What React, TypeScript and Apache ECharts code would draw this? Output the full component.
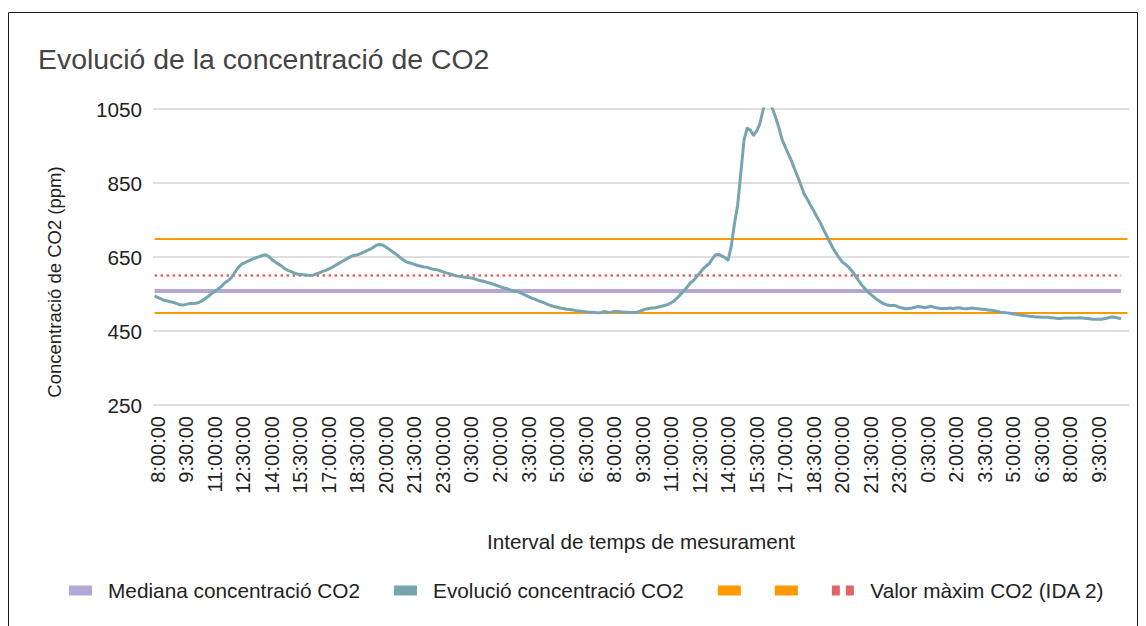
import React, { useEffect, useRef } from 'react';
import * as echarts from 'echarts';

// ---- Data ----
// Readings every 10 minutes, starting at 7:50 (day 1)
const START_MINUTES = 7 * 60 + 50;
const STEP_MINUTES = 10;
const SLOT_COUNT = 308;

const X_TICK_LABELS = [
  '8:00:00', '9:30:00', '11:00:00', '12:30:00', '14:00:00', '15:30:00', '17:00:00', '18:30:00',
  '20:00:00', '21:30:00', '23:00:00', '0:30:00', '2:00:00', '3:30:00', '5:00:00', '6:30:00',
  '8:00:00', '9:30:00', '11:00:00', '12:30:00', '14:00:00', '15:30:00', '17:00:00', '18:30:00',
  '20:00:00', '21:30:00', '23:00:00', '0:30:00', '2:00:00', '3:30:00', '5:00:00', '6:30:00',
  '8:00:00', '9:30:00',
];
const TICK_EVERY = 9; // one label every 1.5 h
const TICK_OFFSET = 1; // first label (8:00) is the 2nd reading

const CO2_PPM = [
  545, 541, 537, 533, 531, 529, 527, 524, 521, 520,
  522, 524, 524, 525, 527, 532, 538, 544, 551, 557,
  563, 570, 579, 585, 592, 604, 617, 627, 633, 637,
  641, 645, 648, 651, 654, 656, 652, 643, 637, 631,
  626, 619, 614, 611, 607, 604, 603, 602, 601, 600,
  601, 604, 607, 611, 614, 618, 622, 627, 632, 637,
  642, 647, 652, 654, 656, 659, 663, 667, 671, 676,
  682, 684, 682, 677, 671, 665, 659, 652, 645, 639,
  635, 633, 630, 627, 625, 623, 622, 619, 617, 616,
  613, 610, 607, 605, 602, 599, 598, 597, 595, 594,
  593, 591, 588, 586, 584, 581, 579, 576, 573, 570,
  567, 565, 562, 559, 557, 555, 551, 547, 543, 539,
  536, 532, 529, 526, 522, 519, 516, 514, 512, 511,
  509, 508, 507, 505, 504, 503, 502, 501, 501, 500,
  499, 500, 503, 500, 501, 503, 503, 502, 501, 501,
  500, 500, 500, 503, 506, 509, 511, 512, 513, 515,
  517, 519, 522, 526, 532, 540, 549, 558, 568, 579,
  586, 596, 606, 617, 625, 632, 645, 656, 657, 653,
  648, 642, 680, 740, 790, 877, 965, 998, 993, 979,
  990, 1010, 1046, 1085, 1080, 1051, 1027, 1000, 968, 948,
  929, 909, 887, 866, 843, 820, 806, 790, 775, 759,
  744, 726, 709, 692, 675, 661, 648, 637, 630, 623,
  613, 601, 588, 576, 566, 556, 549, 542, 535, 529,
  524, 521, 519, 519, 518, 514, 512, 510, 511, 512,
  514, 516, 515, 513, 515, 517, 514, 512, 511, 511,
  511, 512, 511, 512, 513, 511, 510, 511, 512, 511,
  510, 509, 508, 507, 506, 505, 503, 501, 500, 499,
  498, 496, 495, 493, 492, 491, 490, 489, 488, 488,
  487, 487, 487, 486, 485, 484, 484, 485, 485, 485,
  485, 485, 486, 485, 484, 483, 482, 482, 482, 482,
  484, 486, 488, 487, 485, 483,
];

const MEDIAN_CO2 = 558;
const LIMIT_LOW = 500;
const LIMIT_HIGH = 700;
const IDA2_MAX = 600;

const Y_MIN = 250;
const Y_MAX = 1050;
const Y_STEP = 200;

const NAME_MEDIAN = 'Mediana concentració CO2';
const NAME_CO2 = 'Evolució concentració CO2';
const NAME_LOW = 'Límit inferior';
const NAME_HIGH = 'Límit superior';
const NAME_IDA2 = 'Valor màxim CO2 (IDA 2)';
const UNLABELLED = [NAME_LOW, NAME_HIGH];

// ---- Styles ----
const FONT = '"Liberation Sans", Arial, Helvetica, sans-serif';
const PURPLE = '#b4a7d6';
const TEAL = '#76a5af';
const ORANGE = '#ff9900';
const RED = '#e06666';
const TEXT = '#222222';

const CATEGORIES = Array.from({ length: SLOT_COUNT }, (_, i) => {
  const m = (START_MINUTES + i * STEP_MINUTES) % 1440;
  return `${Math.floor(m / 60)}:${String(m % 60).padStart(2, '0')}:00`;
});

const LAST_READING = CO2_PPM.length - 1;
const LAST_SLOT = SLOT_COUNT - 1;

function refLine(value: number, endIdx: number, color: string, width: number, type: any) {
  return {
    silent: true,
    symbol: ['none', 'none'],
    label: { show: false },
    emphasis: { disabled: true },
    animation: false,
    lineStyle: { color, width, type, cap: 'butt', opacity: 1 },
    data: [[{ coord: [0, value] }, { coord: [endIdx, value] }]],
  };
}

export default function App() {
  const ref = useRef<HTMLDivElement>(null);

  useEffect(() => {
    if (!ref.current) return;
    const chart = echarts.init(ref.current, undefined, { renderer: 'svg' });
    const isTick = (i: number) =>
      i >= TICK_OFFSET && (i - TICK_OFFSET) % TICK_EVERY === 0 &&
      (i - TICK_OFFSET) / TICK_EVERY < X_TICK_LABELS.length;

    chart.setOption({
      animation: false,
      backgroundColor: '#ffffff',
      textStyle: { fontFamily: FONT },
      title: {
        text: 'Evolució de la concentració de CO2',
        left: 38,
        top: 45,
        padding: 0,
        textStyle: { fontSize: 28.4, fontWeight: 'normal', color: '#444444', fontFamily: FONT },
      },
      legend: {
        left: 69,
        top: 580,
        padding: 0,
        itemWidth: 23,
        itemHeight: 10,
        itemGap: 34,
        selectedMode: false,
        formatter: (name: string) => (UNLABELLED.includes(name) ? '' : name),
        textStyle: { fontSize: 20.8, color: TEXT, fontFamily: FONT, padding: [0, 0, 0, 11] },
        data: [
          { name: NAME_MEDIAN, icon: 'rect' },
          { name: NAME_CO2, icon: 'rect' },
          { name: NAME_LOW, icon: 'rect', textStyle: { padding: 0 } },
          { name: NAME_HIGH, icon: 'rect', textStyle: { padding: 0 } },
          { name: NAME_IDA2, icon: 'path://M0,0h8v10h-8z M14,0h8v10h-8z' },
        ],
      },
      grid: { left: 153, right: 17, top: 109, bottom: 221, containLabel: false, outerBoundsMode: 'none' },
      xAxis: {
        type: 'category',
        data: CATEGORIES,
        boundaryGap: true,
        axisLine: { show: false },
        axisTick: { show: false },
        splitLine: { show: false },
        axisLabel: {
          interval: (i: number) => isTick(i),
          rotate: 90,
          margin: 11,
          fontSize: 20,
          color: TEXT,
          fontFamily: FONT,
          formatter: (v: string, i: number) =>
            isTick(i) ? X_TICK_LABELS[(i - TICK_OFFSET) / TICK_EVERY] : v,
        },
        name: 'Interval de temps de mesurament',
        nameLocation: 'middle',
        nameGap: 126,
        nameTextStyle: { fontSize: 20.7, color: TEXT, fontFamily: FONT },
      },
      yAxis: {
        type: 'value',
        min: Y_MIN,
        max: Y_MAX,
        interval: Y_STEP,
        axisLine: { show: false },
        axisTick: { show: false },
        axisLabel: {
          fontSize: 20.7,
          color: TEXT,
          margin: 11,
          fontFamily: FONT,
          formatter: (v: number) => String(v),
        },
        splitLine: { lineStyle: { color: '#d5d5d5', width: 1.5 } },
        name: 'Concentració de CO2 (ppm)',
        nameLocation: 'middle',
        nameGap: 89,
        nameTextStyle: { fontSize: 18.5, color: TEXT, fontFamily: FONT, padding: [0, 50, 0, 0] },
      },
      graphic: [
        {
          type: 'rect',
          silent: true,
          z: -10,
          shape: { x: 8.5, y: 12.5, width: 1129, height: 700 },
          style: { fill: 'transparent', stroke: '#1a1a1a', lineWidth: 1 },
        },
      ],
      series: [
        {
          name: NAME_MEDIAN,
          type: 'line',
          data: [],
          color: PURPLE,
          markLine: refLine(MEDIAN_CO2, LAST_READING, PURPLE, 4, 'solid'),
        },
        {
          name: NAME_CO2,
          type: 'line',
          data: CO2_PPM,
          color: TEAL,
          symbol: 'none',
          showSymbol: false,
          z: 10,
          clip: true,
          emphasis: { disabled: true },
          lineStyle: { width: 3, color: TEAL, join: 'round' },
        },
        {
          name: NAME_LOW,
          type: 'line',
          data: [],
          color: ORANGE,
          markLine: refLine(LIMIT_LOW, LAST_SLOT, ORANGE, 2, 'solid'),
        },
        {
          name: NAME_HIGH,
          type: 'line',
          data: [],
          color: ORANGE,
          markLine: refLine(LIMIT_HIGH, LAST_SLOT, ORANGE, 2, 'solid'),
        },
        {
          name: NAME_IDA2,
          type: 'line',
          data: [],
          color: RED,
          markLine: refLine(IDA2_MAX, LAST_READING, RED, 2.5, [2.5, 3.5]),
        },
      ],
    });
    return () => chart.dispose();
  }, []);

  return (
    <div
      ref={ref}
      style={{ position: 'fixed', left: 0, top: 0, width: 1146, height: 626, background: '#fff' }}
    />
  );
}
